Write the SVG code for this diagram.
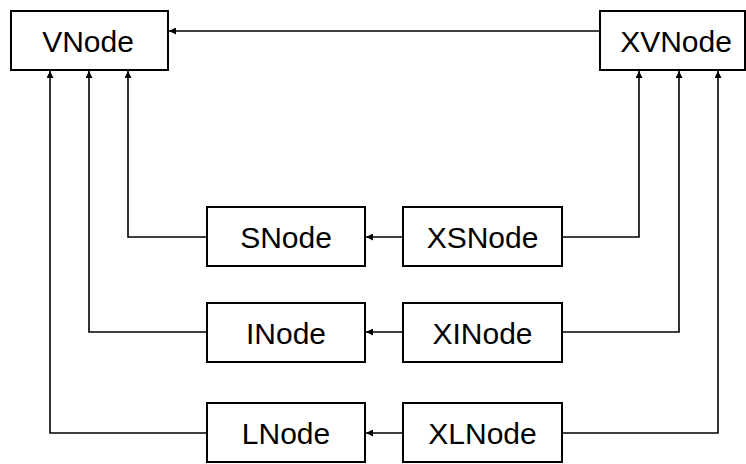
<svg xmlns="http://www.w3.org/2000/svg" width="746" height="464" viewBox="0 0 746 464">
<style>
.box{fill:#fff;stroke:#000;stroke-width:2}
.lbl{font-family:"Liberation Sans",Arial,sans-serif;font-size:30px;fill:#000;text-anchor:middle}
.c{fill:none;stroke:#000;stroke-width:1.6;marker-end:url(#ah)}
</style>
<defs>
<marker id="ah" viewBox="0 0 10 10" refX="10" refY="5" markerWidth="7" markerHeight="7" markerUnits="userSpaceOnUse" orient="auto">
<path d="M0,0 L10,5 L0,10 z" fill="#000"/>
</marker>
</defs>
<rect width="746" height="464" fill="#fff"/>
<g id="connectors">
<path class="c" d="M600,31 H169"/>
<path class="c" d="M207,237 H128 V71"/>
<path class="c" d="M207,332 H89 V71"/>
<path class="c" d="M207,433 H50 V71"/>
<path class="c" d="M562,237 H639 V71"/>
<path class="c" d="M562,332 H679 V71"/>
<path class="c" d="M562,433 H718 V71"/>
<path class="c" d="M403,237 H366"/>
<path class="c" d="M403,332 H366"/>
<path class="c" d="M403,433 H366"/>
</g>
<g id="VNode"><rect class="box" x="11" y="11" width="157" height="59"/><text class="lbl" x="88" y="52">VNode</text></g>
<g id="XVNode"><rect class="box" x="600" y="11" width="145" height="59"/><text class="lbl" x="676" y="52">XVNode</text></g>
<g id="SNode"><rect class="box" x="207" y="207" width="158" height="59"/><text class="lbl" x="286" y="248">SNode</text></g>
<g id="XSNode"><rect class="box" x="403" y="207" width="159" height="59"/><text class="lbl" x="482.5" y="248">XSNode</text></g>
<g id="INode"><rect class="box" x="207" y="303" width="158" height="59"/><text class="lbl" x="286" y="344">INode</text></g>
<g id="XINode"><rect class="box" x="403" y="303" width="159" height="59"/><text class="lbl" x="482.5" y="344">XINode</text></g>
<g id="LNode"><rect class="box" x="207" y="403" width="158" height="59"/><text class="lbl" x="286" y="444">LNode</text></g>
<g id="XLNode"><rect class="box" x="403" y="403" width="159" height="59"/><text class="lbl" x="482.5" y="444">XLNode</text></g>
</svg>
